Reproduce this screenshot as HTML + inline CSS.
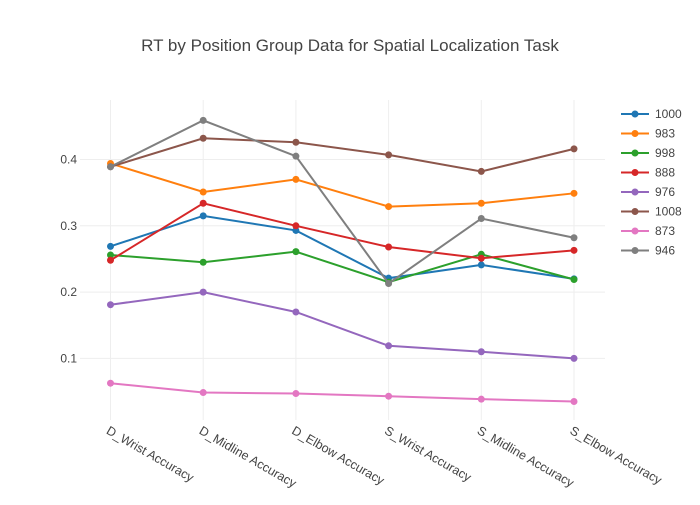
<!DOCTYPE html>
<html><head><meta charset="utf-8"><style>
body{margin:0;background:#fff;font-family:"Liberation Sans",sans-serif;}
svg text{font-family:"Liberation Sans",sans-serif;fill:#444;}
</style></head><body>
<svg id="chart" width="700" height="500">
<text x="350" y="51" text-anchor="middle" font-size="17">RT by Position Group Data for Spatial Localization Task</text>
<g id="grid"></g><g id="series"></g><g id="legend"></g><g id="xt"></g><g id="yt"></g>
</svg>
<script>
const categories=["D_Wrist Accuracy","D_Midline Accuracy","D_Elbow Accuracy","S_Wrist Accuracy","S_Midline Accuracy","S_Elbow Accuracy"];
const names=["1000","983","998","888","976","1008","873","946"];
const colors=["#1f77b4","#ff7f0e","#2ca02c","#d62728","#9467bd","#8c564b","#e377c2","#7f7f7f"];
const s1000=[0.269,0.315,0.293,0.221,0.241,0.220];
const s983=[0.394,0.351,0.370,0.329,0.334,0.349];
const s998=[0.256,0.245,0.261,0.215,0.257,0.219];
const s888=[0.248,0.334,0.300,0.268,0.251,0.263];
const s976=[0.181,0.200,0.170,0.119,0.110,0.100];
const s1008=[0.389,0.432,0.426,0.407,0.382,0.416];
const s873=[0.0626,0.0485,0.047,0.043,0.0385,0.035];
const s946=[0.389,0.459,0.405,0.213,0.311,0.282];
const yTicks=[0.1,0.2,0.3,0.4];
const series=[s1000,s983,s998,s888,s976,s1008,s873,s946];
const NS="http://www.w3.org/2000/svg";
const X=i=>110.5+i*92.7;
const Y=v=>159.5+(0.4-v)*663;
function mk(p,t,a){const e=document.createElementNS(NS,t);for(const k in a)e.setAttribute(k,a[k]);document.getElementById(p).appendChild(e);return e;}
categories.forEach((c,i)=>{
 const g=mk('grid','line',{x1:X(i),x2:X(i),y1:100,y2:420,stroke:'#eee'});
 
 
 const t=mk('xt','text',{x:X(i)-5,y:433,'font-size':12.5,transform:`rotate(30 ${X(i)-5} 433)`});
 t.textContent=c;
 
 
});
yTicks.forEach(v=>{
 const g=mk('grid','line',{x1:80,x2:605,y1:Y(v),y2:Y(v),stroke:'#eee'});
 
 
 const t=mk('yt','text',{x:77,y:Y(v)+4,'text-anchor':'end','font-size':12});
 t.textContent=v.toFixed(1);
 
 
});
series.forEach((d,k)=>{
 const pl=mk('series','polyline',{points:d.map((v,i)=>X(i)+','+Y(v)).join(' '),fill:'none',stroke:colors[k],'stroke-width':2});
 
 
 d.forEach((v,i)=>{
  const c=mk('series','circle',{cx:X(i),cy:Y(v),r:3.5,fill:colors[k]});
  
  
 });
 const ly=114+k*19.5;
 const l=mk('legend','line',{x1:621,x2:649,y1:ly,y2:ly,stroke:colors[k],'stroke-width':2});
 
 
 const lc=mk('legend','circle',{cx:635,cy:ly,r:3.5,fill:colors[k]});
 
 
 const lt=mk('legend','text',{x:655,y:ly+4,'font-size':12});
 lt.textContent=names[k];
 
 
});
</script>
</body></html>
